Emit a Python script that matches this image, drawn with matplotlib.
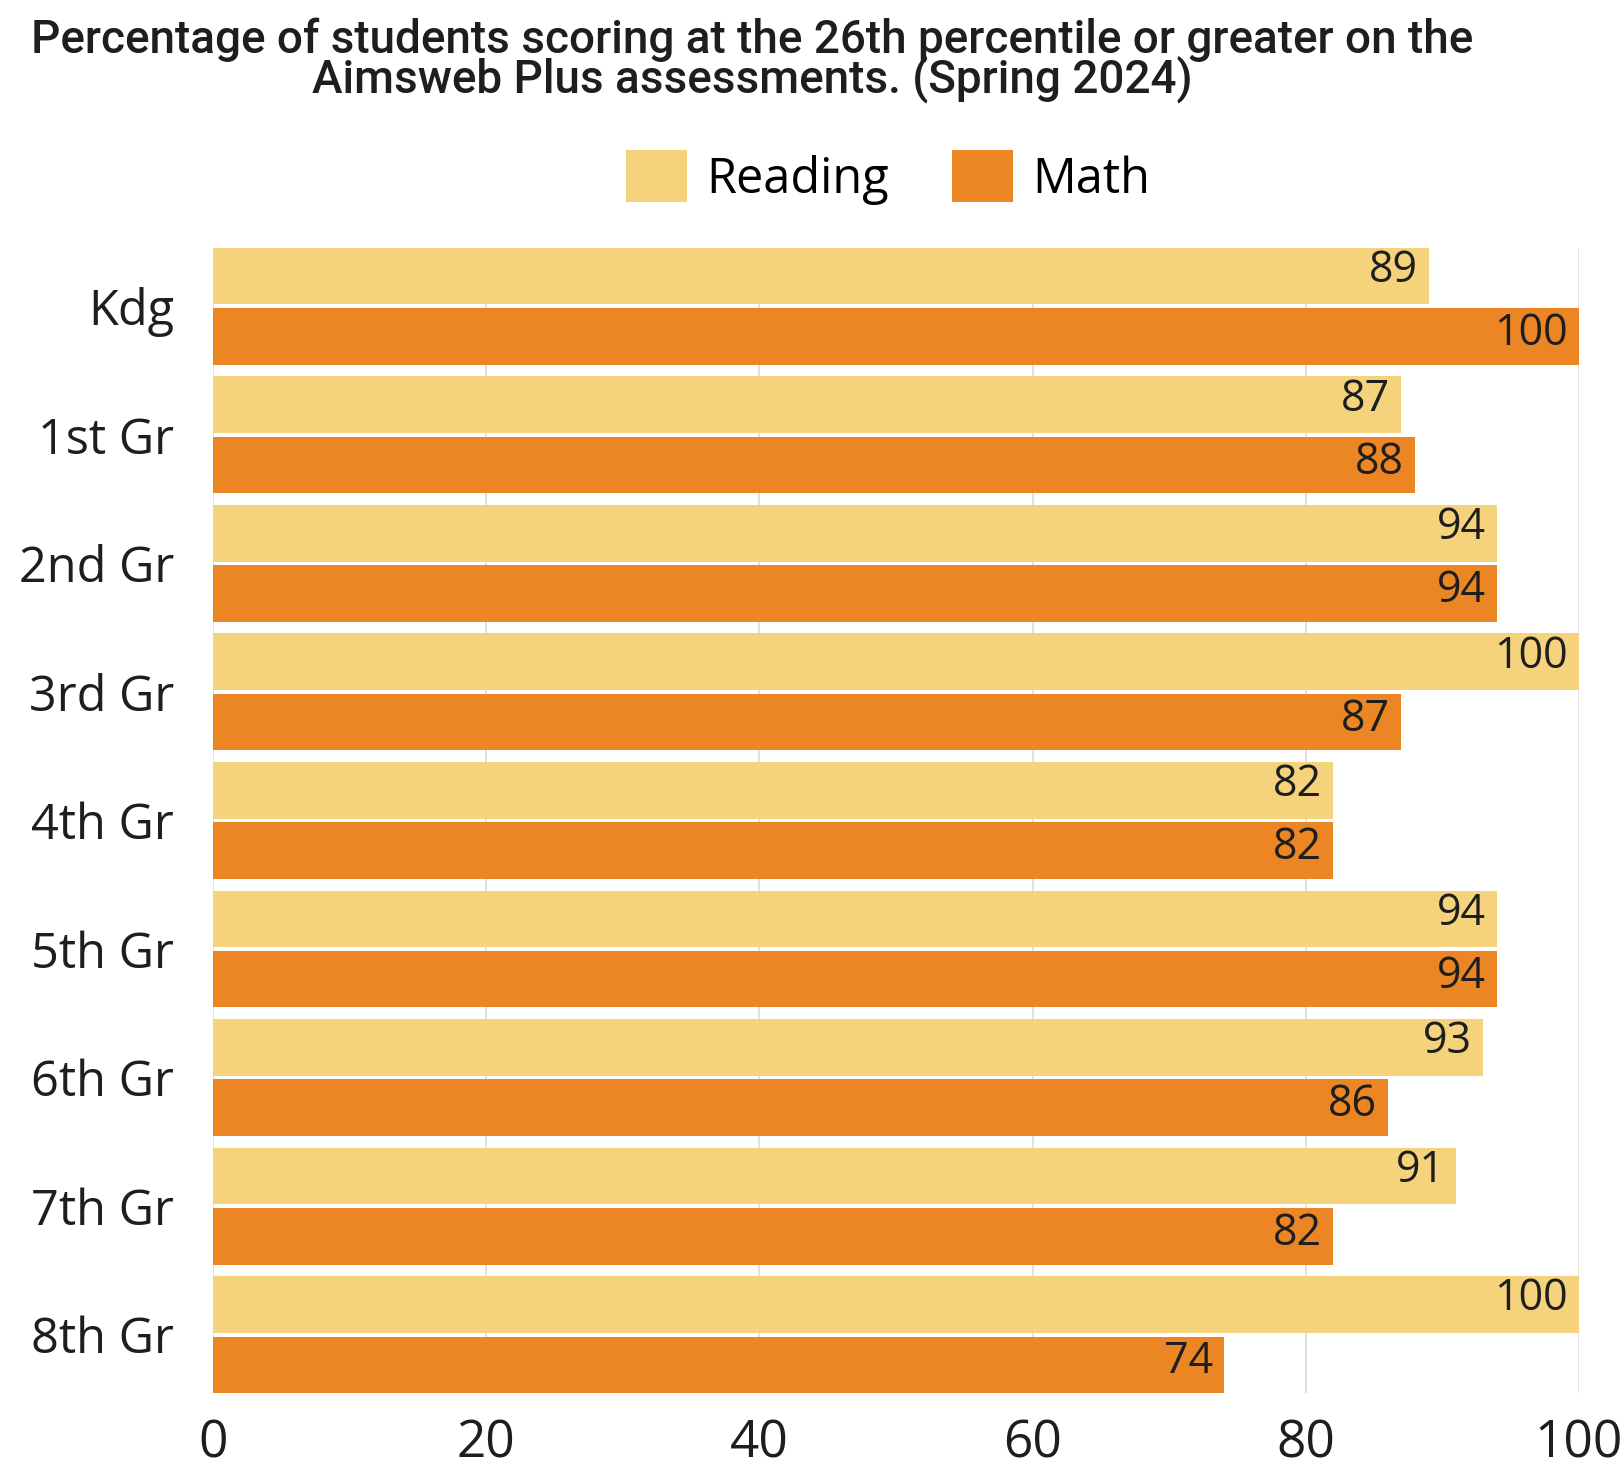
import numpy as np
import matplotlib
matplotlib.use("Agg")
from matplotlib import pyplot as plt
from matplotlib.patches import Patch

grades = ["Kdg", "1st Gr", "2nd Gr", "3rd Gr", "4th Gr", "5th Gr", "6th Gr", "7th Gr", "8th Gr"]
reading = [89, 87, 94, 100, 82, 94, 93, 91, 100]
math = [100, 88, 94, 87, 82, 94, 86, 82, 74]
xticks = [0, 20, 40, 60, 80, 100]

col_read = "#F4D37C"
col_math = "#EC8524"
txt = "#1e1e1e"

fig = plt.figure(figsize=(16.21, 14.67), dpi=100)
ax = fig.add_axes([0.1314, 0.0504, 0.974 - 0.1314, 0.831 - 0.0504])

y = np.arange(len(grades))
h = 0.44
off = 0.235
ax.barh(y - off, reading, height=h, color=col_read, zorder=2)
ax.barh(y + off, math, height=h, color=col_math, zorder=2)

# value labels at the end of each bar
for i in range(len(grades)):
    ax.text(reading[i] - 0.8, y[i] - off - 0.04, str(reading[i]), ha="right", va="center",
            fontsize=31, color=txt, family="Open Sans", zorder=3)
    ax.text(math[i] - 0.8, y[i] + off - 0.02, str(math[i]), ha="right", va="center",
            fontsize=31, color=txt, family="Open Sans", zorder=3)

ax.set_xlim(0, 100)
ax.set_ylim(8.455, -0.455)
ax.set_xticks(xticks)
ax.set_xticklabels([str(v) for v in xticks], fontsize=37, color=txt, family="Open Sans")
ax.set_yticks(y)
ax.set_yticklabels(grades, fontsize=35, color=txt, family="Open Sans")
ax.tick_params(axis="both", length=0)
ax.tick_params(axis="x", pad=18)
ax.tick_params(axis="y", pad=28)
for s in ax.spines.values():
    s.set_visible(False)
ax.grid(axis="x", color="#dcdcdc", linewidth=1.2, zorder=0)
ax.set_axisbelow(True)

fig.text(0.464, 0.988, "Percentage of students scoring at the 26th percentile or greater on the\n"
         "Aimsweb Plus assessments. (Spring 2024)", ha="center", va="top",
         fontsize=33, color=txt, family="Roboto", weight="medium", linespacing=0.82)

handles = [Patch(facecolor=col_read, label="Reading"), Patch(facecolor=col_math, label="Math")]
fig.legend(handles=handles, loc="center", bbox_to_anchor=(0.548, 0.879), ncol=2, frameon=False,
           prop={"family": "Open Sans", "size": 35}, handlelength=1.25, handleheight=1.25,
           handletextpad=0.4, columnspacing=1.3)

fig.savefig("out.png", dpi=100)
